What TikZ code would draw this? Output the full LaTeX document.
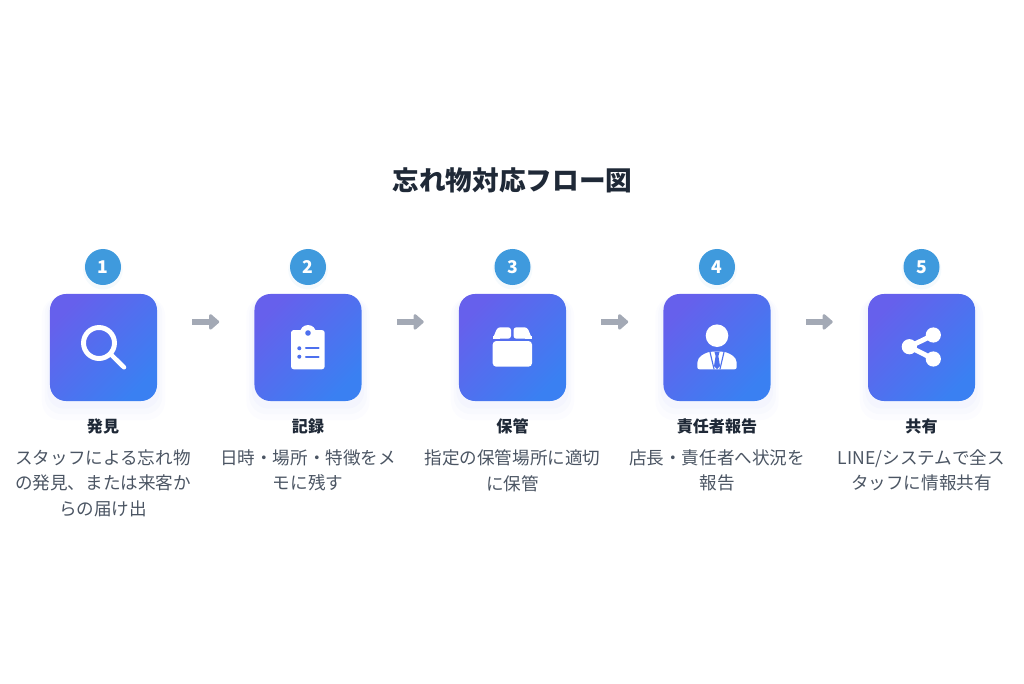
\documentclass[tikz,border=0pt]{standalone}
\usepackage{fontspec}
\usepackage{xcolor}
\setmainfont{Noto Sans CJK JP}
\usetikzlibrary{arrows.meta,shadows}
\definecolor{boxtop}{HTML}{6660EC}
\definecolor{boxbottom}{HTML}{3A80F2}
\definecolor{boxshadow}{HTML}{5F78EE}
\definecolor{badgeblue}{HTML}{3F9ADD}
\definecolor{arrowgray}{HTML}{A3A9B5}
\definecolor{titlegray}{HTML}{1F2937}
\definecolor{bodygray}{HTML}{4B5563}
\definecolor{iconblue}{HTML}{4D70EE}

\begin{document}
\begin{tikzpicture}%
                    [x=0.025cm,
                    y=-0.025cm,
                    stepbox/.style={rectangle,rounded corners=0.4cm,minimum size=2.675cm,inner sep=0pt,
                        general shadow={fill=boxshadow,fill opacity=0.018,shadow yshift=-0.24cm,shadow scale=1.15},
                        general shadow={fill=boxshadow,fill opacity=0.022,shadow yshift=-0.18cm,shadow scale=1.1},
                        general shadow={fill=boxshadow,fill opacity=0.026,shadow yshift=-0.12cm,shadow scale=1.05},
                        top color=boxtop,bottom color=boxbottom,shading angle=45},
                    badge/.style={circle,minimum size=0.9cm,inner sep=0pt,fill=badgeblue,text=white,
                        font=\fontsize{12.5pt}{14pt}\selectfont\bfseries,
                        general shadow={fill=badgeblue,fill opacity=0.05,shadow yshift=-0.06cm,shadow scale=1.1}},
                    steptitle/.style={text=titlegray,font=\fontsize{11.4pt}{13pt}\selectfont\bfseries},
                    stepbody/.style={anchor=north,align=center,inner sep=0pt,text=bodygray,
                        font=\fontsize{12.5pt}{18.05pt}\selectfont},
                    flow/.style={draw=arrowgray,line width=4.2pt,shorten <=0.875cm,shorten >=0.875cm,
                        -{Triangle[length=0.27cm,width=0.45cm,round]}},
                    iconfill/.style={fill=white,draw=none},
                    iconmark/.style={fill=iconblue,draw=none},
                    iconline/.style={draw=iconblue,line width=1.5pt,line cap=round}]

                %% Page and title
                \useasboundingbox (0,0) rectangle (1024,683);
                \node[text=titlegray,font=\fontsize{18.95pt}{23pt}\selectfont\bfseries] (title) at (512.5,180) {忘れ物対応フロー図};
                %%
                %% Drawing the boxes
                %%
                \node[stepbox] (box1) at (103.5,347.5) {};
                \node[stepbox] (box2) at (308,347.5) {};
                \node[stepbox] (box3) at (512.5,347.5) {};
                \node[stepbox] (box4) at (717,347.5) {};
                \node[stepbox] (box5) at (921.5,347.5) {};
                %%
                %% Drawing the badges
                %%
                \node[badge] (badge1) at (103,267) {1};
                \node[badge] (badge2) at (308,267) {2};
                \node[badge] (badge3) at (512.5,267) {3};
                \node[badge] (badge4) at (717,267) {4};
                \node[badge] (badge5) at (921.5,267) {5};
                %%
                %% Arrows between the boxes
                %%
                \draw[flow] ([yshift=0.64cm]box1.east) -- ([yshift=0.64cm]box2.west);
                \draw[flow] ([yshift=0.64cm]box2.east) -- ([yshift=0.64cm]box3.west);
                \draw[flow] ([yshift=0.64cm]box3.east) -- ([yshift=0.64cm]box4.west);
                \draw[flow] ([yshift=0.64cm]box4.east) -- ([yshift=0.64cm]box5.west);
                %%
                %% Labels under the boxes
                %%
                \node[steptitle] (name1) at (103,426) {発見};
                \node[steptitle] (name2) at (308,426) {記録};
                \node[steptitle] (name3) at (512.5,426) {保管};
                \node[steptitle] (name4) at (717,426) {責任者報告};
                \node[steptitle] (name5) at (921.5,426) {共有};
                \node[stepbody] (text1) at (103,449.5) {スタッフによる忘れ物\\の発見、または来客か\\らの届け出};
                \node[stepbody] (text2) at (308,449.5) {日時・場所・特徴をメ\\モに残す};
                \node[stepbody] (text3) at (512.5,449.5) {指定の保管場所に適切\\に保管};
                \node[stepbody] (text4) at (717,449.5) {店長・責任者へ状況を\\報告};
                \node[stepbody] (text5) at (921.5,449.5) {LINE/システムで全ス\\タッフに情報共有};
                %%
                %% Icon: magnifier
                %%
                \draw[white,line width=3.5pt] (99,343) circle (15.5);
                \draw[white,line width=3.2pt,line cap=round] (111.5,355) -- (124,367.3);
                %%
                %% Icon: clipboard
                %%
                \fill[iconfill,rounded corners=2pt] (291,330) rectangle (324.7,369.3);
                \fill[iconfill] (308,333) circle (8);
                \fill[iconmark] (308,333) circle (2.8);
                \fill[iconmark] (299.3,348.3) circle (2);
                \fill[iconmark] (299.3,356.7) circle (2);
                \draw[iconline] (306,348.3) -- (318.5,348.3);
                \draw[iconline] (306,356.7) -- (318.5,356.7);
                %%
                %% Icon: parcel
                %%
                \fill[iconfill,rounded corners=2pt] (492.7,338.7) -- (497.5,327.3) -- (511,327.3) -- (511,338.7) -- cycle;
                \fill[iconfill,rounded corners=2pt] (513.5,338.7) -- (513.5,327.3) -- (527.3,327.3) -- (532,338.7) -- cycle;
                \fill[iconfill] (492.7,336) rectangle (500,338.7);
                \fill[iconfill] (525,336) rectangle (532,338.7);
                \fill[iconfill,rounded corners=2.5pt] (492.7,341) -- (532,341) -- (532,366.7) -- (492.7,366.7) -- cycle;
                %%
                %% Icon: person in a suit
                %%
                \fill[iconfill] (717,335.7) circle (11.3);
                \fill[iconfill,rounded corners=1.5pt] (697.3,369.3) -- (697.3,364) .. controls (698,357) and (703,354) .. (710,351.7) -- (724,351.7) .. controls (731,354) and (736,357) .. (736.7,364) -- (736.7,369.3) -- cycle;
                \draw[iconline,line width=0.8pt] (710,352) -- (714,369);
                \draw[iconline,line width=0.8pt] (724,352) -- (720,369);
                \fill[iconmark] (714.5,352) -- (719.5,352) -- (718.4,356) -- (720,366) -- (717,369.3) -- (714,366) -- (715.6,356) -- cycle;
                %%
                %% Icon: share
                %%
                \draw[white,line width=3.5pt] (933.3,335) -- (909.3,346.7) -- (933.3,359);
                \fill[iconfill] (933.3,335) circle (7.6);
                \fill[iconfill] (933.3,359) circle (7.6);
                \fill[iconfill] (909.3,346.7) circle (7.6);
\end{tikzpicture}
\end{document}
